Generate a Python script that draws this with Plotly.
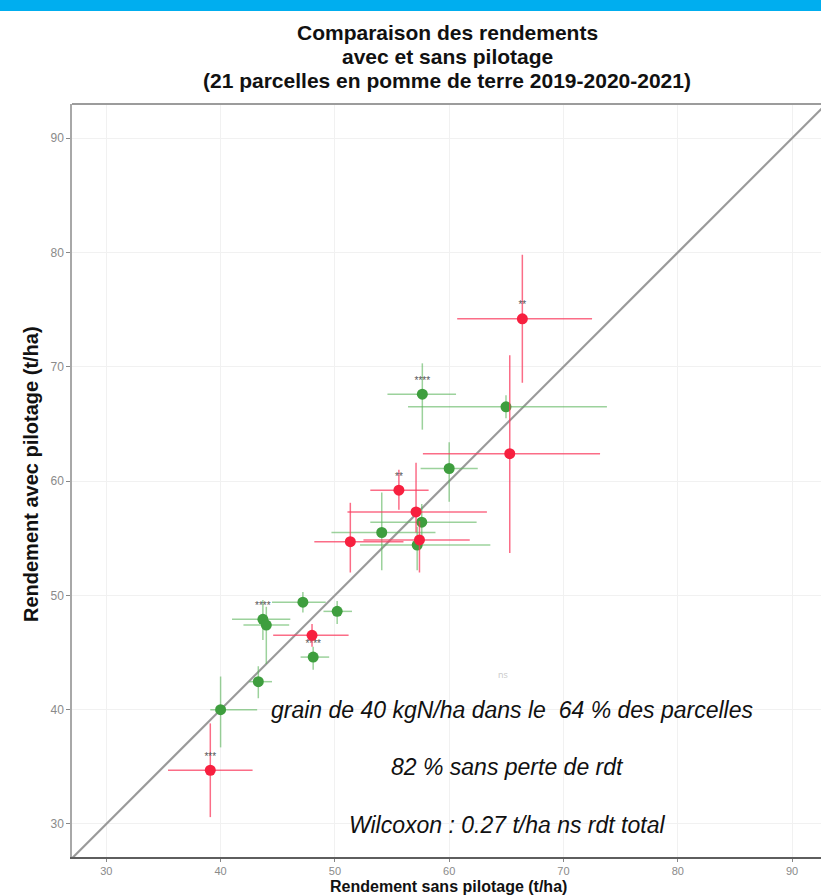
import plotly.graph_objects as go

# ---- data ----
red_x = [66.4, 65.3, 55.6, 57.1, 57.4, 51.35, 48.0, 39.1]
red_y = [74.2, 62.4, 59.2, 57.3, 54.85, 54.7, 46.5, 34.7]
red_x_lo = [60.7, 57.7, 53.1, 51.1, 52.5, 48.2, 44.6, 35.4]
red_x_hi = [72.5, 73.2, 58.2, 63.3, 61.8, 56.0, 51.2, 42.8]
red_y_lo = [68.6, 53.7, 57.5, 55.5, 52.0, 52.0, 45.5, 30.6]
red_y_hi = [79.8, 71.0, 61.0, 61.6, 56.5, 58.1, 47.5, 38.8]
red_sig = ["**", "", "**", "", "", "", "", "***"]

green_x = [57.65, 64.97, 60.0, 57.6, 54.1, 57.2, 47.2, 50.2, 43.7, 44.0, 48.1, 43.3, 40.0]
green_y = [67.6, 66.5, 61.1, 56.4, 55.5, 54.4, 49.4, 48.6, 47.9, 47.4, 44.6, 42.45, 40.0]
green_x_lo = [54.6, 56.4, 57.5, 53.1, 49.7, 52.2, 44.5, 49.0, 41.0, 42.0, 47.0, 42.5, 39.1]
green_x_hi = [60.6, 73.8, 62.5, 62.4, 58.8, 63.6, 49.2, 51.5, 46.1, 46.0, 49.5, 44.5, 43.2]
green_y_lo = [64.5, 65.5, 58.2, 55.0, 52.2, 52.2, 48.5, 47.5, 46.1, 44.0, 43.5, 41.0, 36.7]
green_y_hi = [70.3, 67.5, 63.4, 58.0, 59.0, 56.0, 50.3, 49.5, 49.6, 49.0, 45.5, 43.8, 42.9]
green_sig = ["****", "", "", "", "", "", "", "", "****", "", "****", "", ""]

diag = [27, 95]
x_ticks = [30, 40, 50, 60, 70, 80, 90]
y_ticks = [30, 40, 50, 60, 70, 80, 90]

title_lines = ["Comparaison des rendements", "avec et sans pilotage",
               "(21 parcelles en pomme de terre 2019-2020-2021)"]
notes = ["grain de 40 kgN/ha dans le  64 % des parcelles",
         "82 % sans perte de rdt",
         "Wilcoxon : 0.27 t/ha ns rdt total"]
note_x = [65.5, 65.1, 65.1]
note_y = [40.0, 35.0, 29.9]

RED = "#F7203F"
RED_ERR = "rgba(250,60,95,0.75)"
GREEN = "#3E9E3E"
GREEN_ERR = "rgba(90,180,90,0.6)"
FONT = "Liberation Sans, Arial"


def err(vals, lo, hi):
    plus = [h - v for v, h in zip(vals, hi)]
    minus = [v - l for v, l in zip(vals, lo)]
    return plus, minus


fig = go.Figure()

fig.add_trace(go.Scatter(x=diag, y=diag, mode="lines",
                         line=dict(color="#9a9a9a", width=2.2),
                         hoverinfo="skip", showlegend=False))

for xs, ys, xl, xh, yl, yh, sig, col, ecol in [
    (green_x, green_y, green_x_lo, green_x_hi, green_y_lo, green_y_hi, green_sig, GREEN, GREEN_ERR),
    (red_x, red_y, red_x_lo, red_x_hi, red_y_lo, red_y_hi, red_sig, RED, RED_ERR),
]:
    xp, xm = err(xs, xl, xh)
    yp, ym = err(ys, yl, yh)
    fig.add_trace(go.Scatter(
        x=xs, y=ys, mode="markers+text", text=sig, textposition="top center",
        textfont=dict(size=10, color="#555555", family=FONT),
        marker=dict(color=col, size=11),
        error_x=dict(type="data", symmetric=False, array=xp, arrayminus=xm,
                     color=ecol, thickness=1.5, width=0),
        error_y=dict(type="data", symmetric=False, array=yp, arrayminus=ym,
                     color=ecol, thickness=1.5, width=0),
        showlegend=False, cliponaxis=False))

# faint label
fig.add_trace(go.Scatter(x=[64.7], y=[43.0], mode="text", text=["ns"],
                         textfont=dict(size=9, color="#c8c8c8"), showlegend=False))

annotations = []
for i, line in enumerate(title_lines):
    annotations.append(dict(text="<b>" + line + "</b>", xref="paper", yref="paper",
                            x=(447 - 72) / 749, y=1 + (104 - (32 + 24 * i)) / 753,
                            showarrow=False, xanchor="center", yanchor="middle",
                            font=dict(size=21, color="#111111", family=FONT)))
for t, nx, ny in zip(notes, note_x, note_y):
    annotations.append(dict(text="<i>" + t + "</i>", x=nx, y=ny, xref="x", yref="y",
                            showarrow=False, xanchor="center", yanchor="middle",
                            font=dict(size=23, color="#111111", family=FONT)))
annotations.append(dict(text="<b>Rendement sans pilotage (t/ha)</b>", xref="paper", yref="paper",
                        x=(448 - 72) / 749, y=-(886 - 857) / 753, showarrow=False,
                        xanchor="center", yanchor="middle",
                        font=dict(size=16, color="#111111", family=FONT)))
annotations.append(dict(text="<b>Rendement avec pilotage (t/ha)</b>", xref="paper", yref="paper",
                        x=-(72 - 31) / 749, y=(857 - 474) / 753, showarrow=False, textangle=-90,
                        xanchor="center", yanchor="middle",
                        font=dict(size=20, color="#111111", family=FONT)))

shapes = [
    dict(type="rect", xref="paper", yref="paper",
         x0=-72 / 749 - 0.01, x1=1.01, y0=1 + (104 - 11) / 753, y1=1 + 104 / 753 + 0.01,
         fillcolor="#00AEEF", line=dict(width=0), layer="above"),
    dict(type="line", xref="paper", yref="paper", x0=0, x1=1, y0=1, y1=1,
         line=dict(color="#9c9c9c", width=2), layer="above"),
]

fig.update_layout(
    width=821, height=895,
    margin=dict(l=72, r=0, t=104, b=38),
    paper_bgcolor="white", plot_bgcolor="white",
    annotations=annotations, shapes=shapes,
    xaxis=dict(range=[27.0, 92.53], tickvals=x_ticks, ticks="outside", ticklen=3,
               tickcolor="#888888", tickfont=dict(size=11, color="#8a8a8a", family=FONT),
               showgrid=True, gridcolor="#f1f1f1", gridwidth=1,
               showline=True, linecolor="#5e5e5e", linewidth=2, zeroline=False),
    yaxis=dict(range=[27.11, 92.99], tickvals=y_ticks, ticks="outside", ticklen=4,
               tickcolor="#888888", tickfont=dict(size=12, color="#8a8a8a", family=FONT),
               showgrid=True, gridcolor="#f1f1f1", gridwidth=1,
               showline=True, linecolor="#a8a8a8", linewidth=1.5, zeroline=False),
)

fig.write_html("out.html")
